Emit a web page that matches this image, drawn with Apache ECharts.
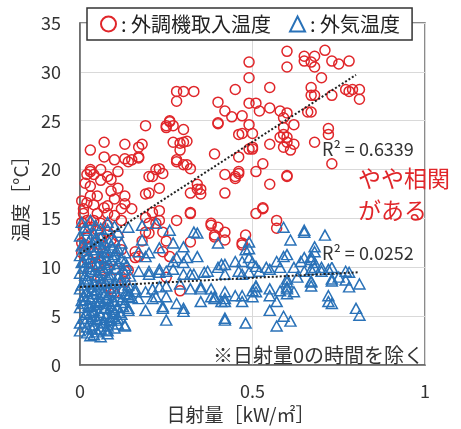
<!DOCTYPE html>
<html>
<head>
<meta charset="utf-8">
<script src="https://cdn.jsdelivr.net/npm/echarts@6/dist/echarts.min.js"></script>
<style>
  html, body { margin: 0; padding: 0; background: #fff; }
  #chart { width: 461px; height: 429px; }
</style>
</head>
<body>
<div id="chart"></div>
<script>
// 日射量 [kW/㎡] vs 温度 [°C]
const intakeTemp = [
  [0.49,31.0],[0.49,29.4],[0.60,32.1],[0.60,30.5],[0.65,31.6],[0.65,31.1],[0.68,31.6],[0.67,31.0],[0.68,30.5],[0.71,32.2],
  [0.73,31.1],[0.75,30.8],[0.78,31.1],[0.70,29.4],[0.67,28.4],[0.67,27.6],[0.68,27.6],[0.73,27.6],[0.77,28.2],[0.78,28.0],
  [0.79,28.2],[0.81,28.2],[0.81,27.2],[0.66,25.9],[0.67,25.9],[0.72,24.2],[0.28,28.0],[0.30,28.0],[0.33,28.0],[0.28,27.0],
  [0.45,28.2],[0.55,28.4],[0.40,26.9],[0.42,26.0],[0.49,26.8],[0.51,26.8],[0.52,26.0],[0.55,26.3],[0.58,26.0],[0.60,25.8],
  [0.59,25.3],[0.44,25.4],[0.40,24.7],[0.49,24.6],[0.19,24.5],[0.25,24.5],[0.27,24.5],[0.26,24.9],[0.30,24.1],[0.62,24.6],
  [0.59,24.3],[0.47,23.7],[0.50,23.7],[0.47,25.5],[0.59,23.6],[0.58,23.3],[0.62,22.6],[0.61,22.0],[0.68,22.8],[0.50,22.1],
  [0.49,22.1],[0.46,21.3],[0.39,21.6],[0.60,22.8],[0.55,22.6],[0.03,22.0],[0.07,22.8],[0.13,22.6],[0.17,22.3],[0.18,22.6],
  [0.10,21.0],[0.14,20.8],[0.15,21.0],[0.17,21.3],[0.03,20.0],[0.06,20.0],[0.02,19.5],[0.04,19.5],[0.08,19.3],[0.09,19.0],
  [0.20,19.3],[0.22,20.0],[0.23,20.1],[0.27,22.8],[0.30,22.8],[0.31,22.9],[0.29,22.0],[0.28,21.0],[0.30,20.5],[0.32,20.1],
  [0.46,23.6],[0.50,22.3],[0.46,19.8],[0.45,19.3],[0.42,19.5],[0.51,19.8],[0.53,20.6],[0.59,22.3],[0.60,23.3],[0.72,23.6],
  [0.73,20.6],[0.60,19.3],[0.55,18.5],[0.42,17.6],[0.35,17.5],[0.35,18.0],[0.34,18.5],[0.32,17.6],[0.23,18.1],[0.19,17.5],
  [0.53,16.1],[0.51,15.5],[0.32,15.5],[0.28,14.8],[0.38,14.3],[0.42,13.6],[0.57,14.8],[0.57,14.0],[0.48,13.3],[0.47,12.5],
  [0.32,12.6],[0.21,15.6],[0.23,14.8],[0.20,14.5],[0.20,13.5],[0.16,11.6],[0.17,11.1],[0.26,11.1],[0.24,11.6],[0.46,19.6],
  [0.45,19.1],[0.60,19.4],[0.53,16.0],[0.47,12.3],[0.42,12.8],[0.40,14.1],[0.39,13.1],[0.25,24.3],[0.26,25.0],[0.29,22.7],
  [0.40,24.8],[0.13,21.1],[0.17,21.2],[0.03,19.8],[0.03,18.3],[0.11,18.1],[0.03,17.3],[0.05,17.3],[0.02,16.6],[0.01,16.0],
  [0.07,16.1],[0.08,16.3],[0.10,17.0],[0.13,17.3],[0.13,16.5],[0.12,16.0],[0.15,16.0],[0.05,15.5],[0.08,15.5],[0.10,15.3],
  [0.02,14.8],[0.04,14.8],[0.06,14.5],[0.08,14.3],[0.12,14.8],[0.03,14.1],[0.05,13.8],[0.08,13.6],[0.19,15.1],[0.22,14.5],
  [0.19,13.6],[0.20,17.6],[0.21,19.3],[0.24,19.6],[0.28,20.8],[0.31,20.5],[0.34,18.0],[0.32,15.6],[0.23,15.8],[0.24,13.6],
  [0.38,14.5],[0.39,13.3],[0.25,12.7],[0.18,12.7],[0.005,16.8],[0.01,15.5],[0.01,14.0],[0.02,13.0],[0.005,12.5],[0.03,12.0],
  [0.04,11.5],[0.06,12.3],[0.07,11.0],[0.02,10.8],[0.09,12.8],[0.11,13.2],[0.12,11.8],[0.05,10.3],[0.08,9.8],[0.03,9.5],
  [0.10,9.8],[0.06,8.8],[0.14,9.7],[0.09,7.8],[0.13,8.5],[0.13,9.6],[0.29,7.6],[0.25,9.0],[0.10,7.4],[0.16,11.0],
  [0.005,11.5],[0.015,18.6],[0.04,16.4],[0.06,18.9],[0.09,17.8],[0.07,21.3],[0.11,19.8],[0.005,14.6],[0.02,12.2],[0.06,13.0]
];

const outdoorTemp = [
  [0.11,13.6],[0.14,14.1],[0.18,14.3],[0.22,14.5],[0.26,13.8],[0.33,13.6],[0.34,13.5],[0.18,12.8],[0.27,12.5],[0.30,12.1],
  [0.23,12.0],[0.40,12.5],[0.49,12.6],[0.49,11.9],[0.59,14.1],[0.65,13.8],[0.71,13.3],[0.68,12.1],[0.68,11.6],[0.20,11.5],
  [0.17,11.6],[0.27,10.6],[0.31,11.0],[0.34,11.1],[0.59,11.1],[0.57,10.6],[0.64,10.6],[0.65,11.0],[0.67,10.8],[0.68,10.0],
  [0.70,10.0],[0.73,10.0],[0.77,9.6],[0.45,10.6],[0.47,10.6],[0.51,10.1],[0.54,10.0],[0.41,10.3],[0.37,9.6],[0.23,9.8],
  [0.20,9.6],[0.62,10.0],[0.61,12.8],[0.48,11.8],[0.65,13.6],[0.17,9.6],[0.20,9.3],[0.23,9.5],[0.25,9.6],[0.27,9.8],
  [0.30,9.3],[0.33,9.3],[0.36,9.5],[0.40,10.0],[0.42,9.3],[0.46,9.6],[0.49,9.5],[0.52,9.6],[0.55,9.8],[0.58,10.0],
  [0.60,8.8],[0.65,9.6],[0.67,9.8],[0.70,9.6],[0.72,9.8],[0.75,9.0],[0.78,9.5],[0.78,8.0],[0.81,8.3],[0.67,8.5],
  [0.67,8.1],[0.73,8.6],[0.72,7.1],[0.73,6.3],[0.80,5.8],[0.81,5.1],[0.55,7.8],[0.58,7.6],[0.60,7.3],[0.62,7.5],
  [0.60,7.8],[0.51,8.0],[0.51,7.5],[0.50,7.0],[0.47,7.1],[0.45,7.1],[0.42,6.8],[0.39,7.0],[0.42,6.5],[0.38,7.8],
  [0.35,8.0],[0.32,7.8],[0.29,8.3],[0.25,8.1],[0.23,8.0],[0.21,7.8],[0.19,7.5],[0.16,7.8],[0.14,7.0],[0.17,6.8],
  [0.21,6.8],[0.25,7.0],[0.28,6.3],[0.30,5.8],[0.35,6.5],[0.24,6.0],[0.19,5.6],[0.14,5.8],[0.47,6.5],[0.55,5.6],
  [0.59,5.0],[0.61,4.5],[0.57,4.0],[0.48,4.3],[0.42,4.6],[0.25,4.6],[0.13,4.1],[0.08,3.5],[0.04,3.1],[0.42,10.3],
  [0.49,11.0],[0.50,10.5],[0.60,11.3],[0.67,11.1],[0.68,10.5],[0.47,9.3],[0.42,7.5],[0.41,6.5],[0.50,7.6],[0.51,8.1],
  [0.55,7.1],[0.57,6.5],[0.60,8.5],[0.60,8.0],[0.67,8.6],[0.73,8.8],[0.72,6.5],[0.42,4.8],[0.77,8.7],[0.63,9.0],
  [0.28,11.0],[0.30,10.5],[0.32,9.3],[0.35,7.8],[0.19,11.1],[0.13,10.6],[0.14,7.6],[0.16,7.5],[0.22,7.0],[0.30,5.5],
  [0.24,5.8],[0.14,5.6],[0.11,4.8],[0.13,4.0],[0.38,7.0],[0.39,6.8],
  [0.00,13.2],[0.01,12.4],[0.02,13.8],[0.03,12.9],[0.04,13.5],[0.05,12.1],[0.06,13.0],[0.07,12.6],[0.08,13.9],[0.09,12.3],
  [0.10,12.8],[0.11,11.9],[0.12,12.5],[0.00,11.2],[0.01,10.6],[0.02,11.7],[0.03,10.9],[0.04,11.4],[0.05,10.2],[0.06,11.1],
  [0.07,10.5],[0.08,11.6],[0.09,10.7],[0.10,11.3],[0.11,10.4],[0.12,10.9],[0.13,11.5],[0.00,9.4],[0.01,9.9],[0.02,8.8],
  [0.03,9.6],[0.04,8.3],[0.05,9.2],[0.06,8.6],[0.07,9.7],[0.08,8.9],[0.09,9.3],[0.10,8.4],[0.11,9.0],[0.12,8.7],
  [0.13,9.4],[0.14,8.2],[0.00,7.8],[0.01,7.1],[0.02,7.5],[0.03,6.8],[0.04,7.3],[0.05,7.7],[0.06,6.6],[0.07,7.2],
  [0.08,6.9],[0.09,7.6],[0.10,6.5],[0.11,7.0],[0.12,6.7],[0.13,7.3],[0.15,6.9],[0.00,5.9],[0.01,6.3],[0.02,5.4],
  [0.03,6.0],[0.04,5.6],[0.05,6.2],[0.06,5.1],[0.07,5.8],[0.08,5.3],[0.09,6.1],[0.10,5.5],[0.11,5.9],[0.12,5.2],
  [0.13,6.4],[0.00,4.3],[0.01,4.8],[0.02,3.9],[0.03,4.5],[0.04,4.1],[0.05,4.7],[0.06,3.7],[0.07,4.4],[0.08,4.0],
  [0.09,4.6],[0.10,3.8],[0.11,4.2],[0.00,3.5],[0.02,3.3],[0.05,3.4],[0.03,3.0],[0.06,2.9],[0.08,3.2],[0.005,14.6],
  [0.015,14.1],[0.03,14.8],[0.045,14.3],[0.06,14.0],[0.08,14.6],[0.10,14.2],[0.015,12.0],[0.035,11.8],[0.055,12.4],[0.075,11.5],
  [0.095,12.0],[0.025,10.1],[0.045,9.8],[0.065,10.0],[0.085,10.3],[0.105,9.9],[0.015,8.5],[0.035,8.0],[0.055,8.2],[0.075,8.4],
  [0.095,8.0],[0.115,8.5],[0.025,7.0],[0.045,6.4],[0.065,7.4],[0.085,6.3],[0.105,7.4],[0.015,5.2],[0.035,5.0],[0.055,5.4],
  [0.075,4.9],[0.095,5.0],[0.115,5.4],
  [0.005,10.5],[0.015,9.2],[0.025,11.3],[0.035,10.4],[0.045,12.7],[0.055,11.0],[0.065,9.5],[0.075,10.9],[0.085,9.1],[0.095,11.1],
  [0.005,8.2],[0.015,6.7],[0.025,8.6],[0.035,7.6],[0.045,9.0],[0.055,7.0],[0.065,8.5],[0.075,6.8],[0.085,7.9],[0.095,6.6],
  [0.005,6.6],[0.015,4.4],[0.025,6.1],[0.035,5.6],[0.045,4.8],[0.055,6.5],[0.065,4.3],[0.075,5.9],[0.085,4.6],[0.095,5.7],
  [0.005,12.2],[0.025,12.6],[0.045,13.0],[0.065,12.0],[0.085,12.6],[0.105,11.7],[0.125,9.8],[0.135,10.2],[0.145,9.1],[0.125,7.9],
  [0.14,7.2],[0.125,6.0],[0.105,4.6],[0.035,3.7],[0.075,3.6]
];

// linear trend lines (start / end)
const intakeTrend = [[0, 11.4], [0.8, 29.7]];
const outdoorTrend = [[0, 8.0], [0.81, 9.5]];

const seriesNames = ['外調機取入温度', '外気温度'];
const r2Labels = ['R² = 0.6339', 'R² = 0.0252'];

const RED = '#e0262a';
const BLUE = '#2a72b8';
const FONT = '"Noto Sans CJK JP", "Noto Sans", sans-serif';

const chart = echarts.init(document.getElementById('chart'));

chart.setOption({
  animation: false,
  textStyle: { fontFamily: FONT },
  grid: {
    left: 80, right: 36, top: 23, bottom: 56,
    show: true, borderColor: '#666', borderWidth: 1.5
  },
  legend: {
    left: 87, top: 8,
    padding: [6, 12, 6, 13],
    backgroundColor: '#fff',
    borderColor: '#333', borderWidth: 1.5,
    itemWidth: 15, itemHeight: 15, itemGap: 18,
    data: [
      { name: seriesNames[0], icon: 'circle' },
      { name: seriesNames[1], icon: 'triangle' }
    ],
    formatter: name => ': ' + name,
    textStyle: { fontSize: 20, color: '#222', fontFamily: FONT }
  },
  xAxis: {
    type: 'value', min: 0, max: 1, interval: 0.5,
    name: '日射量［kW/㎡］',
    nameLocation: 'middle', nameGap: 34,
    nameTextStyle: { fontSize: 19, color: '#333', padding: [0, 24, 0, 0] },
    axisLine: { show: true, lineStyle: { color: '#666', width: 1.5 } },
    axisTick: { show: false },
    axisLabel: { fontSize: 18, color: '#333', margin: 17 },
    splitLine: { lineStyle: { color: '#d9d9d9', width: 1 } }
  },
  yAxis: {
    type: 'value', min: 0, max: 35, interval: 5,
    name: '温度［°C］',
    nameLocation: 'middle', nameGap: 44,
    nameTextStyle: { fontSize: 19, color: '#333' },
    axisLine: { show: true, lineStyle: { color: '#666', width: 1.5 } },
    axisTick: { show: false },
    axisLabel: { fontSize: 18, color: '#333', margin: 19 },
    splitLine: { lineStyle: { color: '#d9d9d9', width: 1 } }
  },
  series: [
    {
      name: seriesNames[0], type: 'scatter', symbol: 'circle', symbolSize: 10,
      itemStyle: { color: 'rgba(255,255,255,0)', borderColor: RED, borderWidth: 1.5, opacity: 1 },
      data: intakeTemp, z: 2
    },
    {
      name: seriesNames[1], type: 'scatter', symbol: 'triangle', symbolSize: [11, 10],
      itemStyle: { color: 'rgba(255,255,255,0)', borderColor: BLUE, borderWidth: 1.5, opacity: 1 },
      data: outdoorTemp, z: 3
    },
    {
      type: 'line', data: intakeTrend, symbol: 'none', silent: true, z: 4,
      lineStyle: { color: '#222', width: 2, type: [2, 2] }
    },
    {
      type: 'line', data: outdoorTrend, symbol: 'none', silent: true, z: 4,
      lineStyle: { color: '#222', width: 2, type: [2, 2] }
    }
  ],
  graphic: [
    { type: 'text', left: 322, top: 140, z: 10,
      style: { text: r2Labels[0], font: '18px ' + FONT, fill: '#333', backgroundColor: '#fff' } },
    { type: 'text', left: 322, top: 244, z: 10,
      style: { text: r2Labels[1], font: '18px ' + FONT, fill: '#333', backgroundColor: '#fff' } },
    { type: 'text', left: 358, top: 162, z: 10,
      style: { text: 'やや相関\nがある', font: '23px ' + FONT, fill: RED, lineHeight: 32 } },
    { type: 'text', right: 37, top: 345, z: 10,
      style: { text: '※日射量0の時間を除く', font: '20px ' + FONT, fill: '#333' } }
  ]
});
</script>
</body>
</html>
